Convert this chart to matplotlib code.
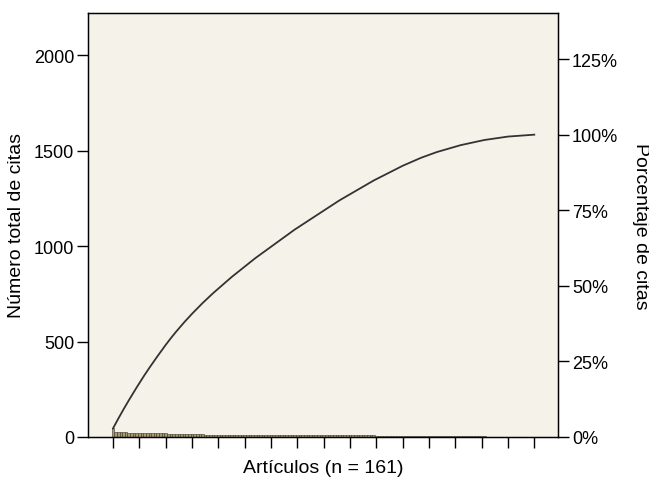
import matplotlib
matplotlib.use("Agg")
import matplotlib.pyplot as plt
import numpy as np
from matplotlib.ticker import FuncFormatter

plt.rcParams['font.family'] = ['Liberation Sans', 'DejaVu Sans']

# Citations per article, sorted descending (161 articles)
citations = (
    [45]
    + [26, 25, 25, 24, 24, 23, 23, 23, 22]
    + [22, 22, 21, 21, 20, 20, 20, 19, 19, 19]
    + [19, 18, 18, 17, 17, 16, 16, 16, 15, 15]
    + [15, 14, 14, 14, 14, 13, 13, 13, 13, 12]
    + [12, 12, 12, 12, 12, 12, 11, 11, 11, 11]
    + [11, 11, 11, 11, 11, 10, 10, 10, 10, 10]
    + [10, 10, 10, 10, 10, 10, 10, 10, 10, 10]
    + [9, 9, 9, 9, 9, 9, 9, 9, 9, 9]
    + [9, 9, 9, 9, 9, 9, 9, 8, 8, 8]
    + [8, 8, 8, 8, 8, 8, 8, 8, 8, 8]
    + [7, 7, 7, 7, 7, 7, 7, 7, 7, 7]
    + [7, 6, 6, 6, 6, 6, 6, 6, 5, 5]
    + [5, 5, 5, 5, 4, 4, 4, 4, 4, 4]
    + [4, 4, 4, 3, 3, 3, 3, 3, 3, 3]
    + [3, 3, 2, 2, 2, 2, 2, 2, 2, 2]
    + [2, 1, 1, 1, 1, 1, 1, 1, 1, 1, 1]
)
articles = list(range(1, len(citations) + 1))
xtick_positions = list(range(1, 162, 10))
left_ticks = [0, 500, 1000, 1500, 2000]
right_ticks = [0, 25, 50, 75, 100, 125]

cum = np.cumsum(citations)
total = cum[-1]

fig = plt.figure(figsize=(6.49, 4.85), dpi=100)
ax = fig.add_axes([88/649, 47/485, 470/649, 424/485])
ax.set_facecolor('#f5f2ea')

ax.bar(articles, citations, width=1.0, color='#a89a70', edgecolor='#3a3528',
       linewidth=0.4)
ax.plot(articles, cum, color='#333333', linewidth=1.3)

ax.set_xlim(-8.5, 170)
ax.set_ylim(0, 2220)
ax.set_xticks(xtick_positions)
ax.set_xticklabels([''] * len(xtick_positions))
ax.set_yticks(left_ticks)
ax.tick_params(axis='both', direction='out', length=8, width=1, labelsize=13,
               pad=2)
ax.set_xlabel('Artículos (n = 161)', fontsize=14, labelpad=6)
ax.set_ylabel('Número total de citas', fontsize=14, labelpad=6)
for s in ax.spines.values():
    s.set_linewidth(1.0)

ax2 = ax.twinx()
ax2.set_ylim(0, 2220 / total * 100)
ax2.set_yticks(right_ticks)
ax2.yaxis.set_major_formatter(FuncFormatter(lambda v, p: f'{int(v)}%'))
ax2.tick_params(axis='y', direction='out', length=8, width=1, labelsize=13,
                pad=2)
ax2.set_ylabel('Porcentaje de citas', fontsize=14, rotation=-90, labelpad=22)

fig.savefig('out.png', dpi=100)
